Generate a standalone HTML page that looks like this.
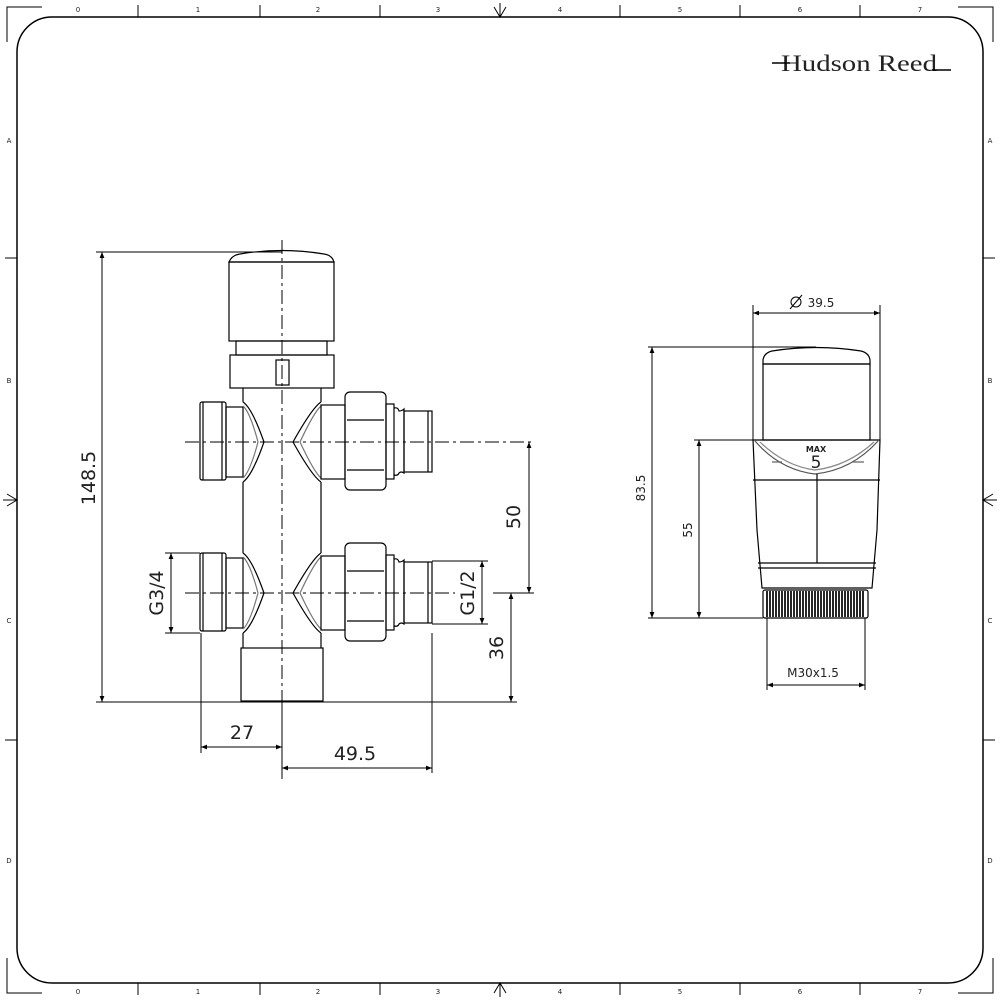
<!DOCTYPE html>
<html><head><meta charset="utf-8"><style>
html,body{margin:0;padding:0;background:#fff;}
svg{display:block;}
text{font-family:"DejaVu Sans","Liberation Sans",sans-serif;fill:#222;}
</style></head><body>
<svg width="1000" height="1000" viewBox="0 0 1000 1000" xmlns="http://www.w3.org/2000/svg">
<defs>
<marker id="a" viewBox="0 0 10 10" refX="10" refY="5" markerWidth="9" markerHeight="6" orient="auto-start-reverse" markerUnits="userSpaceOnUse"><path d="M0,1 L10,5 L0,9 z" fill="#000"/></marker>
<g id="branch" fill="none" stroke="#000" stroke-width="1.2">
  <rect x="200" y="-40" width="26" height="78" rx="2"/>
  <line x1="203" y1="-40" x2="203" y2="38"/>
  <line x1="222" y1="-40" x2="222" y2="38"/>
  <rect x="226" y="-35" width="17" height="70"/>
  <path d="M243,-40 Q252,-34 264,0 Q252,34 243,40"/>
  <path d="M243,-36 Q250,-30 258,0 Q250,30 243,36" stroke="#777"/>
  <path d="M321,-40 Q312,-34 293,0 Q312,34 321,40"/>
  <path d="M321,-36 Q314,-30 300,0 Q314,30 321,36" stroke="#777"/>
  <rect x="321" y="-37" width="24" height="74"/>
  <rect x="345" y="-50" width="41" height="98" rx="5"/>
  <line x1="347" y1="-22" x2="384" y2="-22"/>
  <line x1="347" y1="28" x2="384" y2="28"/>
  <rect x="386" y="-38" width="8" height="75"/>
  <path d="M394,-34 q4,-1 5,3 q3,0 5,-2 L404,31 q-3,-2 -5,0 q-1,3 -5,2"/>
  <rect x="404" y="-31" width="28" height="61"/>
  <line x1="428" y1="-31" x2="428" y2="30"/>
</g>
</defs>

<path d="M52,17 H948 A35,35 0 0 1 983,52 V948 A35,35 0 0 1 948,983 H52 A35,35 0 0 1 17,948 V52 A35,35 0 0 1 52,17 Z" fill="none" stroke="#000" stroke-width="1.5"/>
<path d="M7,42 V7 H42 M958,7 H993 V42 M7,958 V993 H42 M958,993 H993 V958" fill="none" stroke="#000" stroke-width="1"/>
<g stroke="#000" stroke-width="1">
<line x1="138" y1="5" x2="138" y2="17"/><line x1="260" y1="5" x2="260" y2="17"/><line x1="380" y1="5" x2="380" y2="17"/><line x1="620" y1="5" x2="620" y2="17"/><line x1="740" y1="5" x2="740" y2="17"/><line x1="860" y1="5" x2="860" y2="17"/>
<line x1="138" y1="983" x2="138" y2="995"/><line x1="260" y1="983" x2="260" y2="995"/><line x1="380" y1="983" x2="380" y2="995"/><line x1="620" y1="983" x2="620" y2="995"/><line x1="740" y1="983" x2="740" y2="995"/><line x1="860" y1="983" x2="860" y2="995"/>
<line x1="5" y1="258" x2="17" y2="258"/><line x1="5" y1="740" x2="17" y2="740"/>
<line x1="983" y1="258" x2="995" y2="258"/><line x1="983" y1="740" x2="995" y2="740"/>
<path d="M500,3 V17 M494,7 L500,17 L506,7" fill="none"/>
<path d="M500,997 V983 M494,993 L500,983 L506,993" fill="none"/>
<path d="M3,500 H17 M7,494 L17,500 L7,506" fill="none"/>
<path d="M997,500 H983 M993,494 L983,500 L993,506" fill="none"/>
</g>
<g font-size="7" text-anchor="middle">
<text x="78" y="12">0</text><text x="198" y="12">1</text><text x="318" y="12">2</text><text x="438" y="12">3</text><text x="560" y="12">4</text><text x="680" y="12">5</text><text x="800" y="12">6</text><text x="920" y="12">7</text>
<text x="78" y="994">0</text><text x="198" y="994">1</text><text x="318" y="994">2</text><text x="438" y="994">3</text><text x="560" y="994">4</text><text x="680" y="994">5</text><text x="800" y="994">6</text><text x="920" y="994">7</text>
<text x="9" y="143">A</text><text x="9" y="383">B</text><text x="9" y="623">C</text><text x="9" y="863">D</text>
<text x="990" y="143">A</text><text x="990" y="383">B</text><text x="990" y="623">C</text><text x="990" y="863">D</text>
</g>

<text x="781" y="71" font-size="23" textLength="156" lengthAdjust="spacingAndGlyphs" style="font-family:'Liberation Serif',serif" fill="#000">Hudson Reed</text>
<line x1="772" y1="63" x2="790" y2="63" stroke="#000" stroke-width="1.5"/>
<line x1="932" y1="70" x2="951" y2="70" stroke="#000" stroke-width="1.5"/>

<g fill="none" stroke="#000" stroke-width="1.2">
  <path d="M229,262 Q232,255 240,254 Q282,247 324,254 Q332,255 334,262 Z"/>
  <rect x="229" y="262" width="105" height="79"/>
  <rect x="236" y="341" width="91" height="14"/>
  <rect x="230" y="355" width="104" height="33"/>
  <rect x="276" y="360" width="13" height="25"/>
  <line x1="243" y1="388" x2="243" y2="402"/><line x1="321" y1="388" x2="321" y2="402"/>
  <line x1="243" y1="482" x2="243" y2="553"/><line x1="321" y1="482" x2="321" y2="553"/>
  <line x1="243" y1="633" x2="243" y2="648"/><line x1="321" y1="633" x2="321" y2="648"/>
  <rect x="241" y="648" width="82" height="53"/>
</g>
<use href="#branch" transform="translate(0,442)"/>
<use href="#branch" transform="translate(0,593)"/>
<g stroke="#000" stroke-width="1" stroke-dasharray="14,4,3,4" fill="none">
  <line x1="282" y1="240" x2="282" y2="780"/>
  <line x1="185" y1="442" x2="535" y2="442"/>
  <line x1="185" y1="593" x2="455" y2="593"/>
</g>

<g stroke="#000" stroke-width="1" fill="none">
  <line x1="96" y1="252" x2="282" y2="252"/>
  <line x1="96" y1="702" x2="517" y2="702"/>
  <line x1="102" y1="252" x2="102" y2="702" marker-start="url(#a)" marker-end="url(#a)"/>
  <line x1="165" y1="553" x2="200" y2="553"/><line x1="165" y1="633" x2="200" y2="633"/>
  <line x1="171" y1="553" x2="171" y2="633" marker-start="url(#a)" marker-end="url(#a)"/>
  <line x1="432" y1="561" x2="488" y2="561"/><line x1="432" y1="624" x2="488" y2="624"/>
  <line x1="482" y1="561" x2="482" y2="624" marker-start="url(#a)" marker-end="url(#a)"/>
  <line x1="529" y1="442" x2="529" y2="593" marker-start="url(#a)" marker-end="url(#a)"/>
  <line x1="493" y1="593" x2="534" y2="593"/>
  <line x1="511" y1="593" x2="511" y2="702" marker-start="url(#a)" marker-end="url(#a)"/>
  <line x1="201" y1="633" x2="201" y2="753"/>
  <line x1="282" y1="702" x2="282" y2="773"/>
  <line x1="432" y1="633" x2="432" y2="773"/>
  <line x1="201" y1="747" x2="282" y2="747" marker-start="url(#a)" marker-end="url(#a)"/>
  <line x1="282" y1="768" x2="432" y2="768" marker-start="url(#a)" marker-end="url(#a)"/>
</g>
<g font-size="19" text-anchor="middle">
  <text transform="translate(95,478) rotate(-90)">148.5</text>
  <text transform="translate(163,593) rotate(-90)">G3/4</text>
  <text transform="translate(474,593) rotate(-90)">G1/2</text>
  <text transform="translate(520,517) rotate(-90)">50</text>
  <text transform="translate(503,648) rotate(-90)">36</text>
  <text x="242" y="739">27</text>
  <text x="355" y="760">49.5</text>
</g>

<g fill="none" stroke="#000" stroke-width="1.2">
  <path d="M763,364 V360 Q764,353 772,351 Q816,344 861,351 Q869,353 870,360 V364 Z"/>
  <rect x="763" y="364" width="107" height="76"/>
  <path d="M753,440 H880 L877,530 L872,588 H762 L757,530 Z"/>
  <path d="M755,441 Q780,470 815,474 Q852,470 878,441" stroke="#555"/>
  <path d="M760,442 Q785,466 815,470 Q848,466 874,442" stroke="#888"/>
  <path d="M772,462 H782 M852,462 H864" stroke="#666"/>
  <line x1="753" y1="480" x2="880" y2="480"/>
  <line x1="817" y1="474" x2="817" y2="563"/>
  <line x1="758" y1="563" x2="876" y2="563"/>
  <line x1="758" y1="568" x2="876" y2="568"/>
  <rect x="763" y="590" width="105" height="28" rx="2"/>
</g>
<g stroke="#000" stroke-width="1.7">
  <path d="M767,591V617M770,591V617M773,591V617M776,591V617M779,591V617M782,591V617M785,591V617M788,591V617M791,591V617M794,591V617M797,591V617M800,591V617M803,591V617M806,591V617M809,591V617M812,591V617M815,591V617M818,591V617M821,591V617M824,591V617M827,591V617M830,591V617M833,591V617M836,591V617M839,591V617M842,591V617M845,591V617M848,591V617M851,591V617M854,591V617M857,591V617M860,591V617M863,591V617"/>
</g>
<text x="816" y="452" font-size="8" font-weight="bold" text-anchor="middle">MAX</text>
<text x="816" y="468" font-size="17" text-anchor="middle">5</text>

<g stroke="#000" stroke-width="1" fill="none">
  <line x1="753" y1="305" x2="753" y2="440"/>
  <line x1="880" y1="305" x2="880" y2="440"/>
  <line x1="753" y1="313" x2="880" y2="313" marker-start="url(#a)" marker-end="url(#a)"/>
  <line x1="648" y1="347" x2="816" y2="347"/>
  <line x1="648" y1="618" x2="763" y2="618"/>
  <line x1="652" y1="347" x2="652" y2="618" marker-start="url(#a)" marker-end="url(#a)"/>
  <line x1="694" y1="440" x2="753" y2="440"/>
  <line x1="699" y1="440" x2="699" y2="618" marker-start="url(#a)" marker-end="url(#a)"/>
  <line x1="767" y1="618" x2="767" y2="690"/>
  <line x1="865" y1="618" x2="865" y2="690"/>
  <line x1="767" y1="685" x2="865" y2="685" marker-start="url(#a)" marker-end="url(#a)"/>
  <circle cx="796" cy="302" r="5"/>
  <line x1="790" y1="309" x2="802" y2="295"/>
</g>
<g font-size="12" text-anchor="middle">
  <text x="821" y="307">39.5</text>
  <text transform="translate(645,488) rotate(-90)">83.5</text>
  <text transform="translate(692,530) rotate(-90)">55</text>
  <text x="813" y="677">M30x1.5</text>
</g>
</svg>
</body></html>
